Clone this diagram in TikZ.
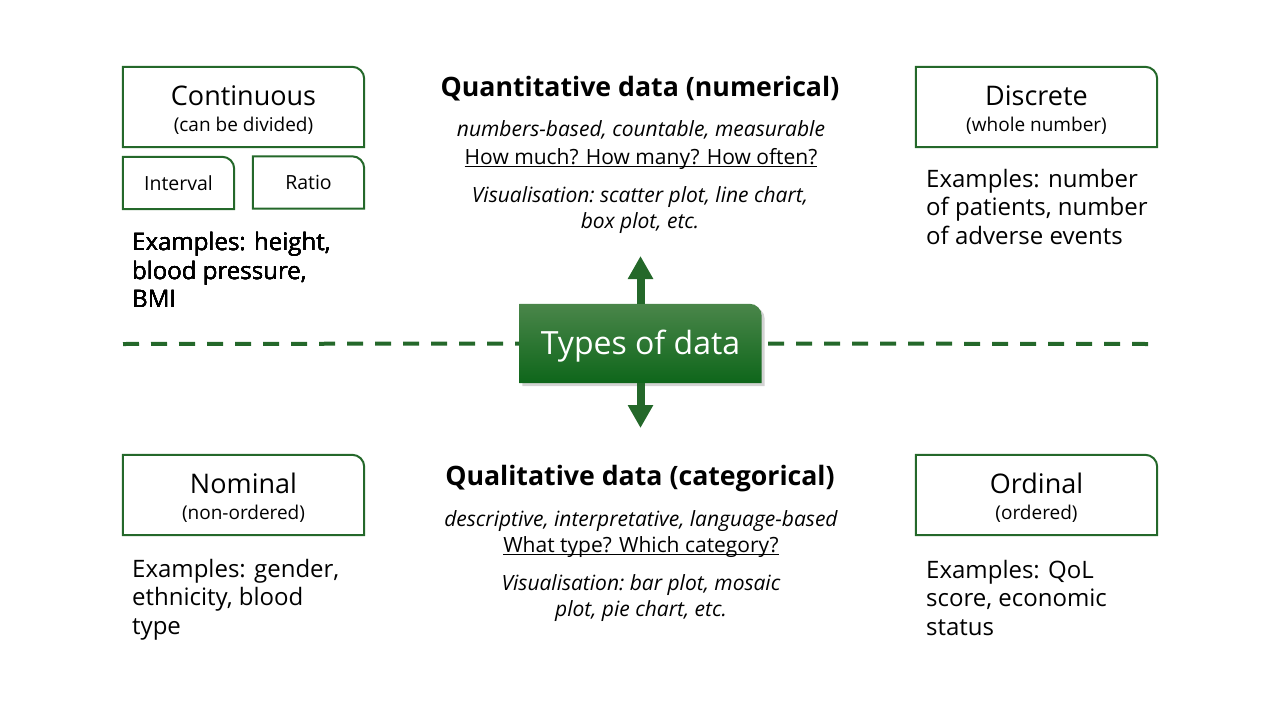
\documentclass[tikz,border=0pt]{standalone}
\usepackage{fontspec}
\setmainfont{Open Sans}
\usetikzlibrary{arrows.meta,shadows,backgrounds,positioning}
\definecolor{leafgreen}{RGB}{36,104,42}
\definecolor{hubtop}{RGB}{74,134,74}
\definecolor{hubbottom}{RGB}{14,102,26}
\tikzset{
  catbox/.style={minimum width=241pt, minimum height=80pt, inner sep=0pt, align=center, font=\fontsize{27}{26}\selectfont},
  subbox/.style={minimum width=111pt, minimum height=52pt, inner sep=0pt, font=\fontsize{19.5}{21}\selectfont},
  hub/.style={minimum width=242pt, minimum height=79pt, inner sep=0pt, text=white, font=\fontsize{32}{34}\selectfont, execute at begin node=\rule{0pt}{30.5pt}},
  examples/.style={anchor=north west, align=left, inner sep=0pt, font=\fontsize{24}{28.5}\selectfont},
  heading/.style={anchor=base, inner sep=0pt, font=\fontsize{26.7}{28}\selectfont\bfseries},
  remark/.style={anchor=base, inner sep=0pt, font=\fontsize{21}{23}\selectfont},
  slanted/.style={remark, font=\fontsize{21}{23}\selectfont\itshape},
  frame/.style={draw=leafgreen, line width=2pt},
  stem/.style={leafgreen, line width=8pt, -{Triangle[width=24pt, length=23pt]}},
  divider/.style={leafgreen, line width=4pt, dash pattern=on 16pt off 12pt}
}
\newcommand{\catlabel}[2]{\rule{0pt}{26.5pt}#1\\{\fontsize{19}{21}\selectfont #2}}
\newcommand{\askline}[1]{\setbox0\hbox{#1}\rlap{\rule[-3pt]{\wd0}{1pt}}\box0}
\newcommand{\tabframe}[1]{\draw[frame] (#1.south west) -- (#1.north west) -- ([xshift=-12pt]#1.north east) arc[start angle=90, end angle=0, radius=12pt] -- (#1.south east) -- cycle;}
\begin{document}
\begin{tikzpicture}[x=1pt, y=-1pt]
  \useasboundingbox (0,0) rectangle (1280,720);
  % category boxes
  \node[catbox] (cont)  at (243.5,107)   {\catlabel{Continuous}{(can be divided)}};
  \node[subbox] (intv)  at (178.5,183)   {Interval};
  \node[subbox] (ratio) at (308.5,182.5) {Ratio};
  \node[catbox] (disc)  at (1036.5,107)  {\catlabel{Discrete}{(whole number)}};
  \node[catbox] (nom)   at (243.5,495)   {\catlabel{Nominal}{(non-ordered)}};
  \node[catbox] (ord)   at (1036.5,495)  {\catlabel{Ordinal}{(ordered)}};
  \foreach \n in {cont, intv, ratio, disc, nom, ord}
    \tabframe{\n}
  % examples
  \node[examples] (contex) at (132,232.3) {Examples: height,\\blood pressure,\\BMI};
  \node[examples] (discex) at (926,169) {Examples: number\\of patients, number\\of adverse events};
  \node[examples] (nomex)  at (132,559) {Examples: gender,\\ethnicity, blood\\type};
  \node[examples] (ordex)  at (926,560) {Examples: QoL\\score, economic\\status};
  % quantitative
  \node[heading] (quant) at (640,96.5) {Quantitative data (numerical)};
  \node[slanted] (quantkey) at (641,136) {numbers-based,\ countable,\ measurable};
  \node[remark] (quantask) at (641,164) {\askline{How much? How many? How often?}};
  \node[slanted] (quantvis) at (640,202) {Visualisation:\ scatter plot, line chart,};
  \node[slanted] (quantvisb) at (640,228) {box plot, etc.};
  % qualitative
  \node[heading] (qual) at (640,485.5) {Qualitative data (categorical)};
  \node[slanted] (qualkey) at (641,526) {descriptive,\ interpretative,\ language-based};
  \node[remark] (qualask) at (641,552) {\askline{What type? Which category?}};
  \node[slanted] (qualvis) at (641,590) {Visualisation:\ bar plot, mosaic};
  \node[slanted] (qualvisb) at (641,616) {plot, pie chart, etc.};
  % centre
  \node[hub] (types) at (640.5,343.5) {Types of data};
  \begin{scope}[on background layer]
    \shade[top color=hubtop, bottom color=hubbottom, drop shadow={shadow xshift=3pt, shadow yshift=-3pt, opacity=.35}]
      (types.south west) -- (types.north west) -- ([xshift=-12pt]types.north east) arc[start angle=90, end angle=0, radius=12pt] -- (types.south east) -- cycle;
  \end{scope}
  \coordinate (up)    at (640.5,256);
  \coordinate (down)  at (640.5,428);
  \coordinate (west)  at (123,344);
  \coordinate (east)  at (1148,344);
  \foreach \side/\tip in {north/up, south/down}
    \draw[stem] (types.\side) -- (\tip);
  \draw[divider] (west) -- (types.west);
  \draw[divider] (east) -- ([xshift=6pt]types.east);
\end{tikzpicture}
\end{document}
